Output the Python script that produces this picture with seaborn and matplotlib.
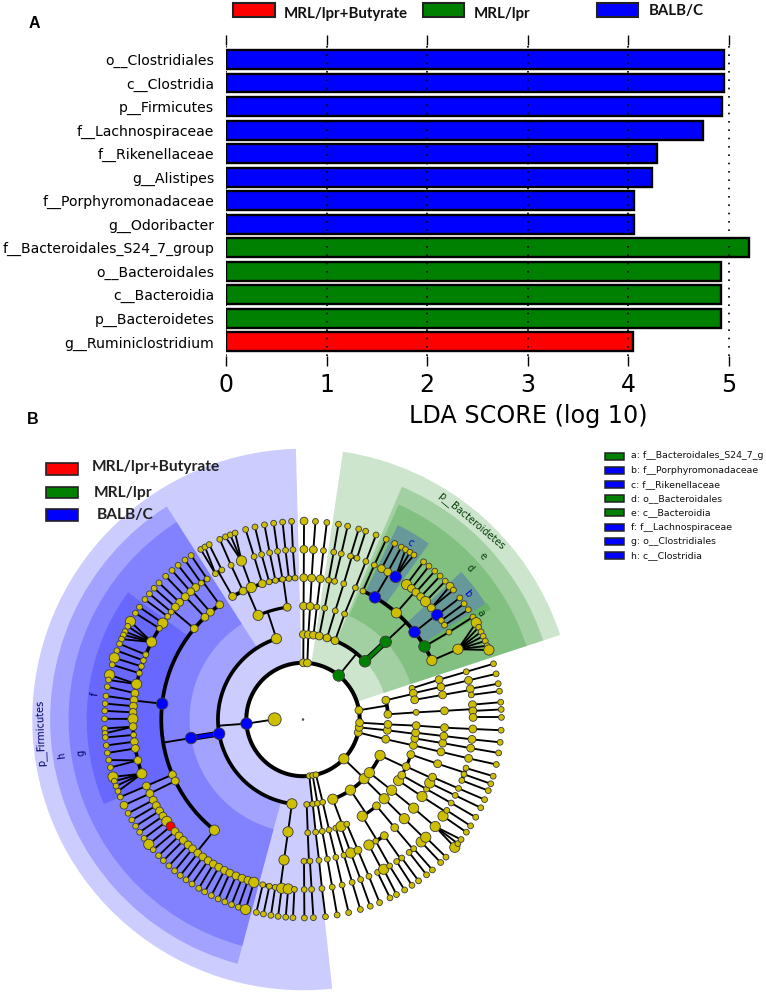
import numpy as np
import pandas as pd
import matplotlib
matplotlib.use("Agg")
import matplotlib.pyplot as plt
from matplotlib.patches import Rectangle
import seaborn as sns

# ---------- panel A data ----------
taxa = ["o__Clostridiales", "c__Clostridia", "p__Firmicutes", "f__Lachnospiraceae",
        "f__Rikenellaceae", "g__Alistipes", "f__Porphyromonadaceae", "g__Odoribacter",
        "f__Bacteroidales_S24_7_group", "o__Bacteroidales", "c__Bacteroidia",
        "p__Bacteroidetes", "g__Ruminiclostridium"]
lda_scores = [4.95, 4.95, 4.93, 4.74, 4.28, 4.23, 4.06, 4.055, 5.2, 4.92, 4.92, 4.92, 4.045]
taxa_group = ["BALB/C"] * 8 + ["MRL/lpr"] * 4 + ["MRL/lpr+Butyrate"]
group_names = ["MRL/lpr+Butyrate", "MRL/lpr", "BALB/C"]
group_colors = {"MRL/lpr+Butyrate": "#ff0000", "MRL/lpr": "#008000", "BALB/C": "#0000ff"}
score_ticks = [0, 1, 2, 3, 4, 5]

# ---------- panel B data: angle of parent -> angles of children, per ring ----------
phyla = [89.7, 85.6, 184.2, 276.4, 279.8, 283.2, 316.1, 346.8, 352, 356.8, 9.4, 50.9]
ring3 = {89.7: [89.7], 85.6: [86.4], 50.9: [82.9, 79, 73.6, 67.9, 43.2],
         184.2: [108.2, 189.6, 262.5], 276.4: [272.5, 276.6], 279.8: [279.8], 283.2: [283.4],
         316.1: [290.5, 303.9, 315.9, 321.3, 335], 346.8: [346.6], 352: [352.7],
         356.8: [356.7], 9.4: [13.1, 3.5]}
ring4 = {89.7: [89.7], 86.4: [86.4], 82.9: [83], 79: [79], 73.6: [73.5], 67.9: [68.5], 43.2: [43.2],
         108.2: [113.3, 98], 189.6: [189.4], 262.5: [262.4], 272.5: [272.4], 276.6: [276.4],
         279.8: [279.8], 283.4: [283.3], 290.5: [286.8, 289.6, 292.7], 303.9: [301.5, 310.4],
         315.9: [315.7], 321.3: [321.4], 335: [327.4, 330.6, 335.5, 342], 346.6: [346.8],
         352.7: [350.4, 353.3], 356.7: [356.9], 13.1: [16, 13.4, 10], 3.5: [3.6]}
ring5 = {89.7: [89.7], 86.4: [86.5], 83: [83], 79: [79.6, 77.1], 73.5: [73.3], 68.5: [68.3],
         43.2: [65, 59.5, 48.8, 38.1, 31, 24.6], 113.3: [119.8, 115, 111.4, 106.7],
         98: [103.8, 101.2, 98.3, 95.7, 93.2],
         189.4: [126, 130.8, 133.8, 140.1, 173.6, 202.9, 205.7, 231.3], 262.4: [262.3],
         272.4: [270.4, 272.8], 276.4: [276.5], 279.8: [279.9], 283.3: [283.4], 286.8: [286.8],
         289.6: [289.7], 292.7: [292.8], 301.5: [297.7, 300.9, 305], 310.4: [310.3], 315.7: [315.6],
         321.4: [321.3], 327.4: [327.1], 330.6: [330.6], 335.5: [333.4, 336], 342: [341.8],
         346.8: [346.8], 350.4: [350.4], 353.3: [353.3], 356.9: [356.7], 16: [16.3], 13.4: [13.3],
         10: [10], 3.6: [3.5]}
lachno_genera = [145.5, 147.6, 152.9, 157.6, 159.7, 161.8, 164.2, 168, 171.1, 173.4, 175.5, 177.6,
                 179.8, 182.4, 185.2, 187.5, 189.8, 193.9, 198.6]
family231_genera = [208.3, 210.4, 212.5, 214.6, 216.8, 218.9, 221.2, 223.2, 225.3, 227.5, 229.5,
                    231.8, 233.9, 236.1, 238.2, 240.3, 242.5, 244.5, 246.8, 249, 251.1, 253.2]
ring6 = {89.7: [89.7], 86.5: [86.5], 83: [83.1], 79.6: [79.6], 77.1: [77], 73.3: [73.8, 71.5],
         68.3: [68.3], 65: [65.2], 59.5: [62.5, 60.1, 57], 48.8: [52.5, 50.4, 48.4, 46.2, 43.9, 41],
         38.1: [37.9, 35.6, 33.7], 31: [30.9], 24.6: [24.4], 119.8: [121, 118.5], 115: [115],
         111.4: [111.2], 106.7: [106.7], 103.8: [104.1], 101.2: [101.3], 98.3: [98.6], 95.7: [95.9],
         93.2: [93.4], 126: [124.3, 126.7], 130.8: [129.1, 131.3], 133.8: [133.8, 136.5, 138.6],
         140.1: [140.8, 142.7], 173.6: lachno_genera, 202.9: [203], 205.7: [205.8],
         231.3: family231_genera, 262.3: [256.3, 258.6, 260.6, 262.8, 265, 267.1], 270.4: [270.4],
         272.8: [272.9], 276.5: [276.4], 279.9: [279.9], 283.4: [283.3], 286.8: [286.8],
         289.7: [289.8], 292.8: [292.8], 297.7: [296, 298.3], 300.9: [300.6], 305: [303.4, 305.5],
         310.3: [308.6, 310.6], 315.6: [314, 316.2], 321.3: [321], 327.1: [325.4, 327.7],
         330.6: [330.6], 333.4: [333.5], 336: [336.1], 341.8: [339, 341.2, 343.4], 346.8: [346.8],
         350.4: [350.3], 353.3: [353.3], 356.7: [356.8], 16.3: [16.3], 13.3: [13.3], 10: [10.4, 8.3],
         3.5: [5, 2.9, 0.7]}
ring7 = {89.7: [89.7], 86.5: [86.4], 83.1: [83.1], 79.6: [79.7], 77: [77], 73.8: [73.7], 71.5: [71.6],
         68.3: [68.4], 65.2: [65.2], 62.5: [62.5], 60.1: [60.3], 57: [58.9, 57.4, 56], 52.5: [52.6],
         50.4: [50.6], 48.4: [48.4], 46.2: [46.3], 43.9: [44.2], 41: [42.2, 40.7], 37.9: [37.8],
         35.6: [35.7], 33.7: [33.6], 30.9: [31.1], 24.4: [29.2, 27.7, 26.2, 24.8, 23.3, 21.8, 20.5],
         121: [121, 119.6], 118.5: [118.2], 115: [114.8], 111.2: [113, 111.5, 110], 106.7: [106.8],
         104.1: [104], 101.3: [101.2], 98.6: [98.5], 95.9: [95.9], 93.4: [93.3], 124.3: [124.3],
         126.7: [126.5], 129.1: [129], 131.3: [131.3], 133.8: [133.8], 136.5: [136.5], 138.6: [138.6],
         140.8: [140.7], 142.7: [142.8], 145.5: [145.5], 147.6: [147.6],
         152.9: [150.4, 152, 153.7, 154.8, 156.1], 157.6: [157.6], 159.7: [159.7], 161.8: [161.9],
         164.2: [164], 168: [167, 168.5], 171.1: [170.5], 173.4: [173.2], 175.5: [175.4], 177.6: [177.5],
         179.8: [179.8], 182.4: [182.6, 184], 185.2: [185.2], 187.5: [187.5], 189.8: [189.7],
         193.9: [191.8, 194], 198.6: [196.8, 198.1, 199.6, 201.2], 203: [203], 205.8: [205.6],
         208.3: [208.2], 210.4: [210.4], 212.5: [212.5], 214.6: [214.6], 216.8: [216.8], 218.9: [219],
         221.2: [221], 223.2: [223.3], 225.3: [225.3], 227.5: [227.5], 229.5: [229.7], 231.8: [231.8],
         233.9: [233.9], 236.1: [236], 238.2: [238.3], 240.3: [240.3], 242.5: [242.5], 244.5: [244.7],
         246.8: [246.8], 249: [248.9], 251.1: [251], 253.2: [253.2], 256.3: [256.4], 258.6: [258.5],
         260.6: [260.7], 262.8: [262.8], 265: [265], 267.1: [267.1], 270.4: [270.4], 272.9: [273],
         276.4: [276.5], 279.9: [279.9], 283.3: [283.3], 286.8: [286.8], 289.8: [289.8], 292.8: [292.7],
         296: [296], 298.3: [298.1], 300.6: [300.8], 303.4: [303.3], 305.5: [305.6], 308.6: [308.5],
         310.6: [310.7], 314: [313.9], 316.2: [316.1], 321: [319.9, 321.3, 322.8], 325.4: [325.4],
         327.7: [327.6], 330.6: [330.5], 333.5: [333.6], 336.1: [336.2], 339: [339], 341.2: [341.1],
         343.4: [343.4], 346.8: [346.9], 350.3: [350.3], 353.3: [353.4], 356.8: [356.9], 16.3: [16.3],
         13.3: [13.3], 10.4: [10.4], 8.3: [8.2], 5: [5], 2.9: [2.9], 0.7: [0.6]}
rings = {3: ring3, 4: ring4, 5: ring5, 6: ring6, 7: ring7}

# node size classes, by ring
big_nodes = {3: [108.2, 262.5, 335, 303.9, 315.9, 321.3, 290.5], 4: [113.3, 262.4, 289.6, 301.5, 315.7, 321.4, 327.4],
             5: [111.4, 297.7, 315.6, 321.3, 327.1, 333.4, 262.3, 289.7, 48.8, 24.6, 231.3],
             6: [24.4, 43.9, 52.5, 145.5, 152.9, 168, 179.8, 198.6, 216.8, 253.2, 262.8, 265, 111.2,
                 298.3, 314, 316.2, 321, 325.4],
             7: [20.5, 29.2, 150.4, 161.9, 167, 196.8, 219, 253.2, 319.9]}
mid_nodes = {2: [89.7, 85.6, 346.8, 352, 356.8, 9.4],
             3: [89.7, 86.4, 82.9, 79, 73.6, 67.9, 346.6, 352.7, 356.7, 13.1, 3.5],
             4: [89.7, 86.4, 346.8, 350.4, 353.3, 356.9, 10, 13.4, 98, 310.4, 330.6, 335.5, 342],
             5: [89.7, 86.5, 83, 346.8, 350.4, 353.3, 356.7, 16.3, 13.3, 10, 3.5, 119.8, 115, 106.7,
                 130.8, 133.8, 126, 140.1, 202.9, 205.7, 310.3, 341.8, 292.8, 305, 336, 289.7],
             6: [89.7, 86.5, 346.8, 350.3, 353.3, 356.8, 13.3, 10.4, 5, 2.9, 0.7, 62.5, 60.1, 41, 50.4,
                 48.4, 46.2, 131.3, 129.1, 133.8, 136.5, 138.6, 203, 205.8, 171.1, 173.4, 175.5, 177.6,
                 182.4, 187.5, 189.8, 193.9] + family231_genera,
             7: [89.7, 59.9, 42.2, 205.6]}
colored_nodes = [(2, 184.2, "BALB/C"), (3, 189.6, "BALB/C"), (4, 189.4, "BALB/C"), (5, 173.6, "BALB/C"),
                 (5, 59.5, "BALB/C"), (5, 38.1, "BALB/C"), (6, 57, "BALB/C"), (6, 37.9, "BALB/C"),
                 (2, 50.9, "MRL/lpr"), (3, 43.2, "MRL/lpr"), (4, 43.2, "MRL/lpr"), (5, 31, "MRL/lpr"),
                 (6, 218.9, "MRL/lpr+Butyrate")]

# shaded clades
wedge_from = [2.0, 3.0, 4.0, 5.05, 2.0, 3.0, 4.0, 5.05, 5.05, 5.05]
wedge_to = [9.55, 8.92, 8.27, 7.63, 9.55, 8.92, 8.3, 7.63, 7.63, 7.68]
wedge_start = [91.5, 122.6, 122.6, 144, 18.2, 18.2, 18.2, 54.4, 32.4, 30.4]
wedge_end = [276.2, 255, 255, 203, 81.5, 67, 66, 64, 43, 32.4]
wedge_group = ["BALB/C"] * 4 + ["MRL/lpr"] * 3 + ["BALB/C"] * 2 + ["MRL/lpr"]

clade_labels = ["p__Bacteroidetes", "e", "d", "c", "b", "a", "p__Firmicutes", "h", "g", "f"]
clade_angle = [49.7, 42.2, 42.1, 58.8, 37.6, 30.9, 183, 188.4, 188.5, 173]
clade_level = [9.2, 8.57, 7.94, 7.28, 7.3, 7.28, 9.28, 8.6, 7.92, 7.38]
clade_rotation = [-40, -47, -47, -31, -52, -59, 92, 98, 98, 83]
clade_color = ["#0b3d0b", "#0b3d0b", "#0b3d0b", "#0000cc", "#0000cc", "#0b3d0b",
               "#000066", "#000066", "#000066", "#000066"]

key_labels = ["a: f__Bacteroidales_S24_7_g", "b: f__Porphyromonadaceae", "c: f__Rikenellaceae",
              "d: o__Bacteroidales", "e: c__Bacteroidia", "f: f__Lachnospiraceae",
              "g: o__Clostridiales", "h: c__Clostridia"]
key_group = ["MRL/lpr", "BALB/C", "BALB/C", "MRL/lpr", "MRL/lpr", "BALB/C", "BALB/C", "BALB/C"]

# ---------- figure ----------
W, H = 766, 994
sns.set_theme(style="white")
plt.rcParams["font.family"] = ["DejaVu Sans"]
fig = plt.figure(figsize=(W / 100, H / 100), dpi=100, facecolor="white")


def fx(x):
    return x / W


def fy(y):
    return 1 - y / H


def swatch(x0, y0, x1, y1, color, lw=1.5):
    fig.add_artist(Rectangle((fx(x0), fy(y1)), (x1 - x0) / W, (y1 - y0) / H, transform=fig.transFigure,
                             facecolor=color, edgecolor="#222222", linewidth=lw, zorder=8))


# panel A
ax = fig.add_axes([fx(226), fy(356), (750.5 - 226) / W, (356 - 45) / H])
bars = pd.DataFrame({"taxon": taxa, "score": lda_scores, "group": taxa_group})
sns.barplot(data=bars, y="taxon", x="score", hue="group", palette=group_colors, dodge=False, saturation=1,
            width=0.8, edgecolor="black", linewidth=1.7, legend=False, ax=ax)
ax.set_xlim(0, 5.213)
ax.set_ylim(12.6, -0.616)
sns.despine(ax=ax, left=True, right=True, top=True, bottom=True)
ax.set_xticks(score_ticks)
ax.tick_params(axis="x", which="both", top=True, bottom=True, length=7.2, width=1, color="black",
               labelsize=17, labelcolor="black", pad=5)
ax.tick_params(axis="y", length=0, labelsize=10.1, labelcolor="black", pad=8.5)
ax.vlines(score_ticks, 12.6, -0.616, colors="black", linestyles=(0, (1, 4)), linewidth=1.2, zorder=6)
ax.set_ylabel("")
ax.set_xlabel("")
fig.text(fx(528), fy(416), "LDA SCORE (log 10)", fontsize=17.2, color="black", ha="center", va="center")

fig.text(fx(34), fy(24), "A", fontsize=11.5, fontweight="bold", family="Liberation Sans", color="black",
         ha="center", va="center")
fig.text(fx(33), fy(419), "B", fontsize=11.5, fontweight="bold", family="Liberation Sans", color="black",
         ha="center", va="center")

for (x0, x1, y0, y1, name, tx, ty) in [(233, 275, 3, 17, group_names[0], 284, 14),
                                       (423, 464, 3, 17, group_names[1], 474, 14),
                                       (597, 638, 3, 17, group_names[2], 649, 11)]:
    swatch(x0, y0, x1, y1, group_colors[name])
    fig.text(fx(tx), fy(ty), name, fontsize=10.8, fontweight="bold", family="Lato", color="#111111",
             ha="left", va="center")

# panel B
unit = 28.35
rmax = 9.7
rad_px = rmax * unit
pax = fig.add_axes([fx(303 - rad_px), fy(719.5 + rad_px), 2 * rad_px / W, 2 * rad_px / H],
                   projection="polar", facecolor="none")

for r0, r1, a0, a1, g in zip(wedge_from, wedge_to, wedge_start, wedge_end, wedge_group):
    pax.bar(np.radians((a0 + a1) / 2), r1 - r0, width=np.radians(a1 - a0), bottom=r0,
            color=group_colors[g], alpha=0.2, linewidth=0, zorder=1)


def arc(level, a0, a1, lw, color="black"):
    th = np.radians(np.linspace(a0, a1, max(int(abs(a1 - a0)) * 2, 2) + 1))
    pax.plot(th, np.full_like(th, level), color=color, lw=lw, solid_capstyle="round", zorder=3)


def link(l0, a0, l1, a1, lw=1.35, color="black"):
    pax.plot(np.radians([a0, a1]), [l0, l1], color=color, lw=lw, solid_capstyle="round", zorder=2.5)


arc(2, 0, 360, 2.9)
link(1, 179.7, 2, 184.2)
arc_width = {3: 2.7, 4: 2.3, 5: 2.7, 6: 2.5}
for level, clades in rings.items():
    for parent, kids in clades.items():
        if level < 7 and len(kids) > 1:
            link(level - 1, parent, level, parent)
            arc(level, min(kids + [parent]), max(kids + [parent]), arc_width[level])
        else:
            for kid in kids:
                link(level - 1, parent, level, kid)

link(3, 189.6, 4, 189.4, lw=4.2)
link(3, 189.6, 4, 189.4, lw=2.8, color=group_colors["BALB/C"])
link(3, 43.2, 4, 43.2, lw=4.2)
link(3, 43.2, 4, 43.2, lw=2.8, color=group_colors["MRL/lpr"])

rows = [{"level": 0, "angle": 0, "cls": "root", "group": "none"},
        {"level": 1, "angle": 179.7, "cls": "kingdom", "group": "none"}]
for a in phyla:
    rows.append({"level": 2, "angle": a, "cls": "small", "group": "none"})
for level, clades in rings.items():
    for kids in clades.values():
        for a in kids:
            rows.append({"level": level, "angle": a, "cls": "small", "group": "none"})
nodes = pd.DataFrame(rows).drop_duplicates(["level", "angle"]).reset_index(drop=True)
for lev, angs in mid_nodes.items():
    nodes.loc[(nodes.level == lev) & nodes.angle.isin(angs), "cls"] = "mid"
for lev, angs in big_nodes.items():
    nodes.loc[(nodes.level == lev) & nodes.angle.isin(angs), "cls"] = "big"
nodes.loc[(nodes.level == 2) & (nodes.angle == 316.1), "cls"] = "big"
for lev, ang, g in colored_nodes:
    m = (nodes.level == lev) & (nodes.angle == ang)
    nodes.loc[m, "group"] = g
    nodes.loc[m, "cls"] = "red" if g == "MRL/lpr+Butyrate" else "marked"
nodes["theta"] = np.radians(nodes.angle)


def area(px):
    return (px * 0.72) ** 2


node_palette = dict(group_colors)
node_palette["none"] = "#cdbf00"
size_map = {"root": area(1.6), "small": area(5.8), "mid": area(7.8), "big": area(10.2),
            "marked": area(11.5), "red": area(9), "kingdom": area(13)}
sns.scatterplot(data=nodes, x="theta", y="level", hue="group", palette=node_palette, size="cls",
                sizes=size_map, edgecolor="#3a3a3a", linewidth=0.6, legend=False, ax=pax, zorder=5, alpha=1)

for lab, a, lev, rot, col in zip(clade_labels, clade_angle, clade_level, clade_rotation, clade_color):
    pax.text(np.radians(a), lev, lab, fontsize=7, color=col, rotation=rot, rotation_mode="anchor",
             ha="center", va="center", zorder=6)
pax.set_ylim(0, rmax)
pax.set_axis_off()

for name, y0, y1, ty, tx in [(group_names[0], 463, 475, 467, 92), (group_names[1], 487, 498, 493, 94),
                             (group_names[2], 509, 521, 515, 97)]:
    swatch(46, y0, 78, y1, group_colors[name], lw=1.2)
    fig.text(fx(tx), fy(ty), name, fontsize=11.2, fontweight="bold", family="Lato", color="#222222",
             ha="left", va="center", zorder=9)

key_y = [456, 470.3, 484.3, 498.7, 512.7, 527, 541, 555.3]
for lab, g, y in zip(key_labels, key_group, key_y):
    swatch(604.5, y - 3.5, 623.5, y + 3.5, group_colors[g], lw=1.1)
    fig.text(fx(631), fy(y), lab, fontsize=6.75, color="#111111", ha="left", va="center")

fig.savefig("out.png", dpi=100, facecolor="white")
